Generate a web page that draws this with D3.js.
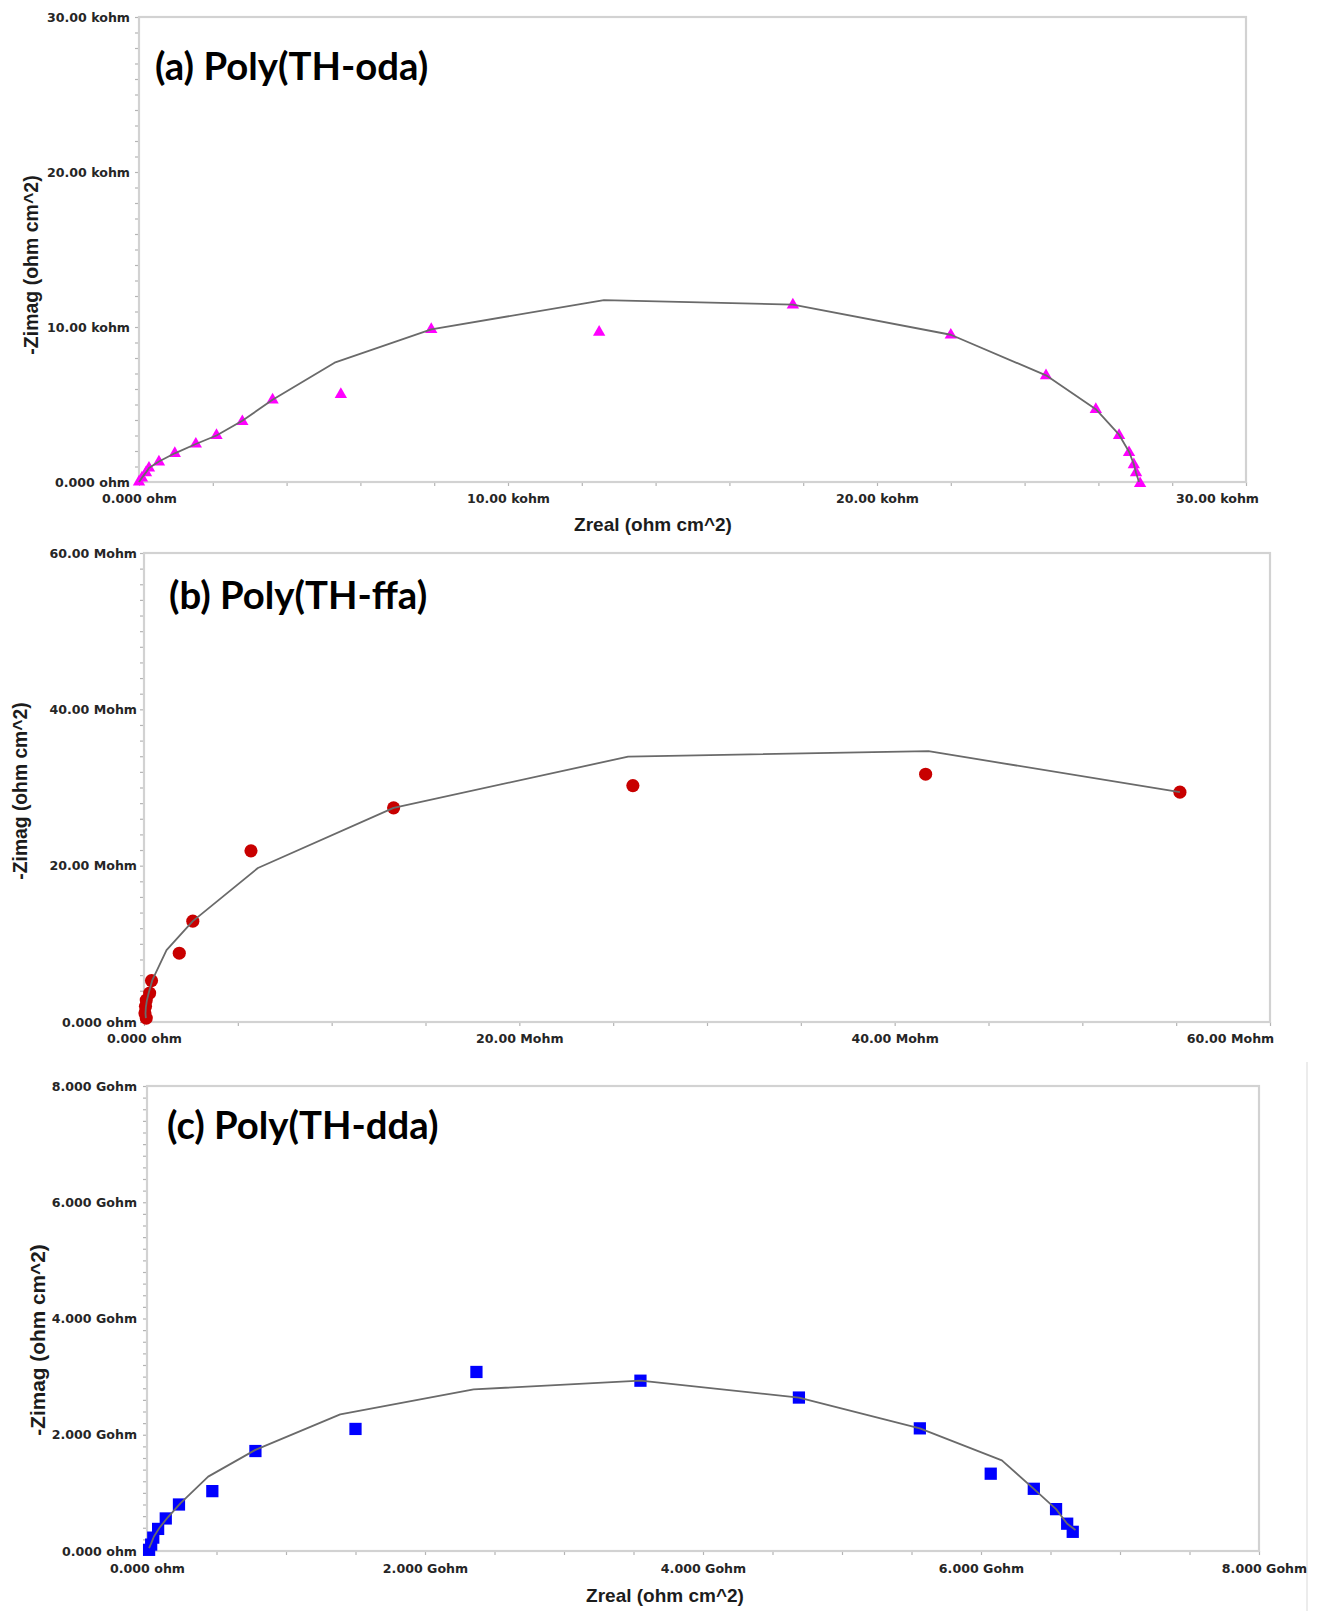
<!DOCTYPE html>
<html>
<head>
<meta charset="utf-8">
<script src="https://cdn.jsdelivr.net/npm/d3@7"></script>
<style>
  html, body { margin: 0; padding: 0; background: #ffffff; }
  svg { display: block; }
</style>
</head>
<body>
<script>
// ---------- Nyquist data: measured points and equivalent-circuit fit ----------

// (a) Poly(TH-oda), Zreal / -Zimag in kohm·cm²
const odaZreal    = [0, 0.08, 0.19, 0.27, 0.54, 0.97, 1.54, 2.10, 2.80, 3.62, 5.47, 7.92, 12.47, 17.72, 22.00, 24.58, 25.93, 26.56, 26.83, 26.96, 27.02, 27.13];
const odaZimag    = [0, 0.26, 0.60, 0.90, 1.30, 1.85, 2.45, 3.00, 3.90, 5.30, 5.65, 9.85, 9.67, 11.42, 9.48, 6.86, 4.68, 3.00, 1.90, 1.12, 0.60, -0.10];
const odaFitZreal = [0, 0.08, 0.19, 0.27, 0.54, 0.97, 1.54, 2.10, 2.80, 3.62, 5.30, 7.92, 12.60, 17.72, 22.00, 24.58, 25.93, 26.56, 26.83, 26.96, 27.02, 27.10];
const odaFitZimag = [0, 0.28, 0.62, 0.90, 1.32, 1.85, 2.45, 3.00, 3.95, 5.30, 7.70, 9.85, 11.74, 11.45, 9.50, 6.88, 4.70, 3.05, 1.95, 1.15, 0.60, 0.00];
const odaAxisTicks  = [0, 10, 20, 30];
const odaTickLabels = ["0.000 ohm", "10.00 kohm", "20.00 kohm", "30.00 kohm"];

// (b) Poly(TH-ffa), Zreal / -Zimag in Mohm·cm²
const ffaZreal    = [0.12, 0.05, 0.08, 0.12, 0.30, 0.40, 1.88, 2.60, 5.70, 13.30, 26.05, 41.65, 55.20];
const ffaZimag    = [0.50, 1.15, 2.00, 2.80, 3.70, 5.30, 8.80, 12.90, 21.90, 27.40, 30.25, 31.70, 29.40];
const ffaFitZreal = [0.10, 0.08, 0.10, 0.15, 0.25, 0.45, 1.20, 2.60, 6.07, 13.30, 25.80, 41.80, 55.20];
const ffaFitZimag = [0.50, 1.10, 1.90, 2.70, 3.70, 5.40, 9.20, 12.90, 19.70, 27.40, 33.95, 34.65, 29.40];
const ffaAxisTicks  = [0, 20, 40, 60];
const ffaTickLabels = ["0.000 ohm", "20.00 Mohm", "40.00 Mohm", "60.00 Mohm"];

// (c) Poly(TH-dda), Zreal / -Zimag in Gohm·cm²
const ddaZreal    = [0.015, 0.03, 0.045, 0.08, 0.135, 0.23, 0.47, 0.78, 1.50, 2.37, 3.55, 4.69, 5.56, 6.07, 6.38, 6.54, 6.62, 6.66];
const ddaZimag    = [0.02, 0.11, 0.23, 0.38, 0.56, 0.80, 1.03, 1.72, 2.10, 3.08, 2.93, 2.64, 2.11, 1.33, 1.07, 0.72, 0.47, 0.33];
const ddaFitZreal = [0.015, 0.03, 0.05, 0.09, 0.15, 0.24, 0.44, 0.78, 1.39, 2.35, 3.55, 4.69, 5.56, 6.15, 6.38, 6.54, 6.62, 6.68];
const ddaFitZimag = [0.05, 0.13, 0.25, 0.40, 0.58, 0.82, 1.28, 1.74, 2.35, 2.78, 2.93, 2.64, 2.11, 1.56, 1.07, 0.72, 0.47, 0.36];
const ddaAxisTicks  = [0, 2, 4, 6, 8];
const ddaTickLabels = ["0.000 ohm", "2.000 Gohm", "4.000 Gohm", "6.000 Gohm", "8.000 Gohm"];

const panelTitles = ["(a) Poly(TH-oda)", "(b) Poly(TH-ffa)", "(c) Poly(TH-dda)"];
const xTitleText = "Zreal (ohm cm^2)";
const yTitleText = "-Zimag (ohm cm^2)";

// ---------- layout and styling of each panel ----------
const panels = [
  {
    title: panelTitles[0], zr: odaZreal, zi: odaZimag, fzr: odaFitZreal, fzi: odaFitZimag,
    ticks: odaAxisTicks, labels: odaTickLabels, xMinor: 2, yMinor: 1,
    left: 139, right: 1246, top: 17, bottom: 482,
    marker: d3.symbolTriangle, markerSize: 66, color: "#ff00ff",
    titleX: 155, titleY: 80, yTitleX: 31, yTitleY: 265, yTitleSize: 19.5,
    xTitle: true, xTitleX: 653, xTitleY: 531,
    yPad: 5, xPad: 8, lastXShift: -29
  },
  {
    title: panelTitles[1], zr: ffaZreal, zi: ffaZimag, fzr: ffaFitZreal, fzi: ffaFitZimag,
    ticks: ffaAxisTicks, labels: ffaTickLabels, xMinor: 5, yMinor: 2,
    left: 144, right: 1270, top: 553, bottom: 1022,
    marker: d3.symbolCircle, markerSize: 136, color: "#c80000",
    titleX: 169, titleY: 609, yTitleX: 20, yTitleY: 791, yTitleSize: 19.3,
    xTitle: false,
    yPad: 3, xPad: 8.5, lastXShift: -40
  },
  {
    title: panelTitles[2], zr: ddaZreal, zi: ddaZimag, fzr: ddaFitZreal, fzi: ddaFitZimag,
    ticks: ddaAxisTicks, labels: ddaTickLabels, xMinor: 0.5, yMinor: 0.2,
    left: 147, right: 1259, top: 1086, bottom: 1551,
    marker: d3.symbolSquare, markerSize: 150, color: "#0000ff",
    titleX: 167, titleY: 1139, yTitleX: 38, yTitleY: 1340, yTitleSize: 20.8,
    xTitle: true, xTitleX: 665, xTitleY: 1602,
    yPad: 6, xPad: 9, lastXShift: 5
  }
];

const W = 1319, H = 1611;
const svg = d3.select("body").append("svg")
  .attr("width", W).attr("height", H)
  .attr("viewBox", `0 0 ${W} ${H}`);

svg.append("rect").attr("width", W).attr("height", H).attr("fill", "#ffffff");

// faint edge of the lower screenshot
svg.append("line")
  .attr("x1", 1307).attr("x2", 1307).attr("y1", 1062).attr("y2", H)
  .attr("stroke", "#ececec").attr("stroke-width", 2);

const tickFont = "'DejaVu Sans', Verdana, sans-serif";
const axisTitleFont = "'Liberation Sans', Arial, sans-serif";
const panelTitleFont = "Lato, 'Open Sans', sans-serif";

panels.forEach(p => {
  const xMax = p.ticks[p.ticks.length - 1];
  const x = d3.scaleLinear().domain([0, xMax]).range([p.left, p.right]);
  const y = d3.scaleLinear().domain([0, xMax]).range([p.bottom, p.top]);
  const g = svg.append("g");

  const labelFor = v => {
    const i = p.ticks.findIndex(t => Math.abs(t - v) < 1e-9);
    return i >= 0 ? p.labels[i] : "";
  };

  // bottom axis: minor ticks everywhere, labels on the majors
  const xTickVals = d3.range(0, xMax + p.xMinor / 2, p.xMinor).map(v => +v.toFixed(6));
  const xAxis = g.append("g")
    .attr("transform", `translate(0,${p.bottom})`)
    .call(d3.axisBottom(x).tickValues(xTickVals).tickSize(4).tickPadding(p.xPad).tickFormat(labelFor));

  const yTickVals = d3.range(0, xMax + p.yMinor / 2, p.yMinor).map(v => +v.toFixed(6));
  const yAxis = g.append("g")
    .attr("transform", `translate(${p.left},0)`)
    .call(d3.axisLeft(y).tickValues(yTickVals).tickSize(4).tickPadding(p.yPad).tickFormat(labelFor));

  [xAxis, yAxis].forEach(ax => {
    ax.select(".domain").remove();
    ax.selectAll(".tick line").attr("stroke", "#b4b4b4").attr("stroke-width", 1.2);
    ax.selectAll(".tick text")
      .attr("fill", "#262626")
      .style("font-family", tickFont)
      .style("font-weight", "bold")
      .style("font-size", "12.6px");
  });

  // the last Zreal label is nudged to sit inside the panel
  xAxis.selectAll(".tick text")
    .filter(d => Math.abs(d - xMax) < 1e-9)
    .attr("dx", p.lastXShift);

  // plot frame
  g.append("rect")
    .attr("x", p.left).attr("y", p.top)
    .attr("width", p.right - p.left).attr("height", p.bottom - p.top)
    .attr("fill", "none").attr("stroke", "#d2d2d2").attr("stroke-width", 2.2);

  // measured points
  const pts = p.zr.map((v, i) => [v, p.zi[i]]);
  g.append("g").selectAll("path")
    .data(pts).join("path")
    .attr("d", d3.symbol().type(p.marker).size(p.markerSize))
    .attr("transform", d => `translate(${x(d[0])},${y(d[1])})`)
    .attr("fill", p.color);

  // fitted curve, drawn over the markers
  const fit = p.fzr.map((v, i) => [v, p.fzi[i]]);
  g.append("path")
    .datum(fit)
    .attr("d", d3.line().x(d => x(d[0])).y(d => y(d[1])))
    .attr("fill", "none")
    .attr("stroke", "#6a6a6a")
    .attr("stroke-width", 1.8)
    .attr("stroke-linejoin", "round");

  // panel title
  g.append("text")
    .attr("x", p.titleX).attr("y", p.titleY)
    .attr("fill", "#000")
    .style("font-family", panelTitleFont)
    .style("font-weight", "bold")
    .style("font-size", "38.3px")
    .text(p.title);

  // axis titles
  g.append("text")
    .attr("transform", `translate(${p.yTitleX},${p.yTitleY}) rotate(-90)`)
    .attr("text-anchor", "middle")
    .attr("dy", "0.35em")
    .attr("fill", "#1c1c1c")
    .style("font-family", axisTitleFont)
    .style("font-weight", "bold")
    .style("font-size", p.yTitleSize + "px")
    .text(yTitleText);

  if (p.xTitle) {
    g.append("text")
      .attr("x", p.xTitleX).attr("y", p.xTitleY)
      .attr("text-anchor", "middle")
      .attr("fill", "#1c1c1c")
      .style("font-family", axisTitleFont)
      .style("font-weight", "bold")
      .style("font-size", "19px")
      .text(xTitleText);
  }
});
</script>
</body>
</html>
